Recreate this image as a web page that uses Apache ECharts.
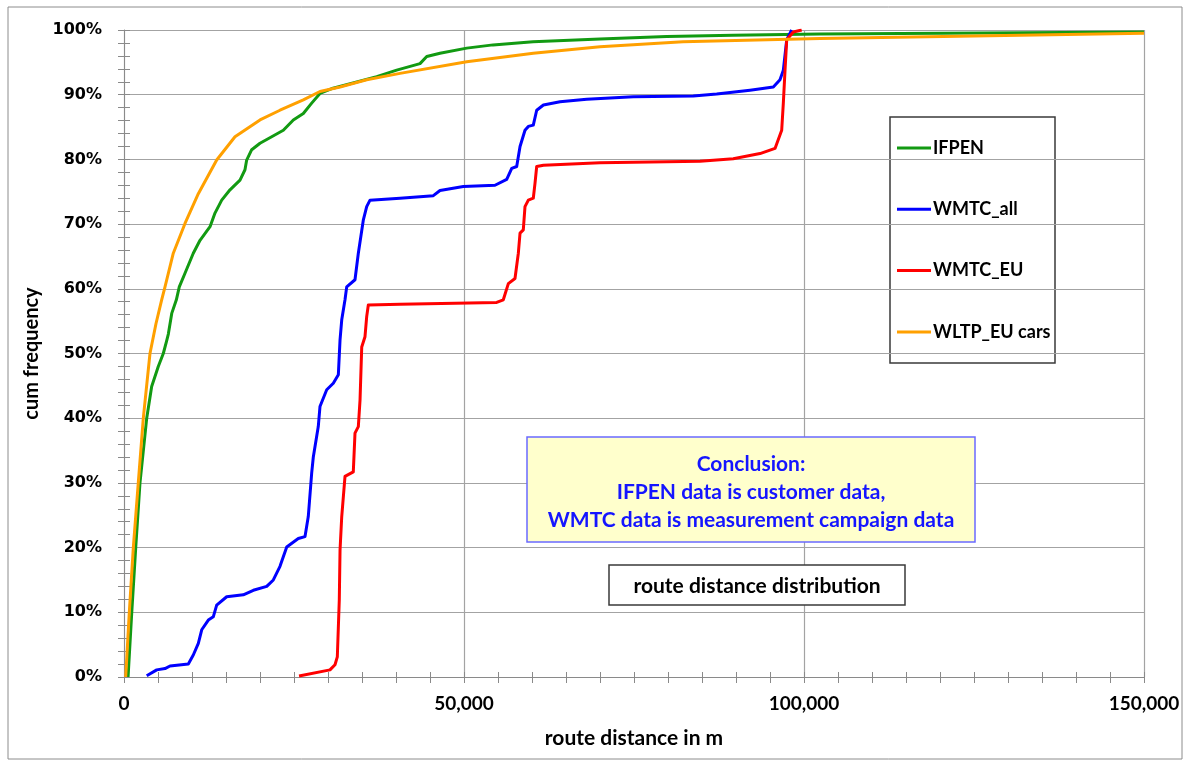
<!DOCTYPE html>
<html>
<head>
<meta charset="utf-8">
<script src="https://cdn.jsdelivr.net/npm/echarts@6/dist/echarts.min.js"></script>
<style>
html,body{margin:0;padding:0;background:#fff;}
#chart{width:1184px;height:767px;}
</style>
</head>
<body>
<div id="chart"></div>
<script>
// ---- data: [route distance in m, cumulative frequency in %] ----
const seriesNames = ['IFPEN', 'WMTC_all', 'WMTC_EU', 'WLTP_EU cars'];

const ifpen = [
  [600,0],[1130,9.8],[1720,19.9],[2350,30],[3340,40],[4070,44.9],[5040,48],[5780,50],
  [6280,52],[6520,53],[7020,56.2],[7700,58.3],[8130,60.3],[8970,62.4],[10190,65.5],
  [11180,67.5],[12650,69.6],[13380,71.7],[14370,73.7],[15590,75.3],[17060,76.8],
  [17790,78.4],[18040,79.9],[18780,81.5],[20000,82.5],[21720,83.5],[23430,84.5],
  [24900,86.1],[26370,87.1],[27600,88.7],[28820,90.2],[30740,91],[33680,91.8],
  [37160,92.8],[40100,93.8],[43530,94.8],[44520,95.9],[46470,96.4],[50400,97.2],
  [54270,97.7],[60150,98.2],[70000,98.6],[79810,99.0],[89560,99.2],[102350,99.4],
  [150000,99.7]
];

const wmtcAll = [
  [3340,0.2],[4810,1.1],[6030,1.3],[6770,1.7],[9460,2.0],[10190,3.4],[10930,5.2],
  [11430,7.3],[12400,8.8],[13130,9.3],[13630,11.1],[15100,12.4],[17540,12.7],
  [19020,13.4],[20990,14.0],[21960,15.0],[22940,17.1],[23930,20.1],[25630,21.4],
  [26620,21.7],[27100,24.8],[27600,31.5],[27840,34.0],[28570,38.7],[28820,41.8],
  [29810,44.4],[30780,45.4],[31520,46.7],[31770,52.1],[32020,55.2],[32500,58.3],
  [32750,60.3],[33970,61.4],[34460,65.5],[35190,70.6],[35690,72.7],[36180,73.7],
  [40590,74.0],[45490,74.4],[46470,75.2],[49900,75.8],[54560,76.0],[56280,76.9],
  [57020,78.6],[57750,78.9],[58240,82.0],[58970,84.5],[59460,85.1],[60190,85.3],
  [60690,87.6],[61680,88.4],[64120,88.9],[68040,89.3],[74900,89.7],[83720,89.8],
  [87160,90.1],[92060,90.7],[95490,91.2],[96470,92.3],[96960,93.8],[97460,98.5],
  [98190,100]
];

const wmtcEU = [
  [25740,0.15],[30290,1.1],[31030,1.9],[31370,3.1],[31660,11.9],[31770,19.6],
  [32020,24.8],[32500,31.0],[33720,31.7],[33970,37.7],[34460,38.7],[34710,42.8],
  [34960,51.0],[35440,52.6],[35690,55.7],[35930,57.5],[40590,57.6],[54810,57.9],
  [55780,58.3],[56520,60.8],[57500,61.6],[57990,65.5],[58240,68.6],[58720,69.1],
  [58970,72.7],[59460,73.7],[60190,74.0],[60440,76.3],[60690,78.9],[61680,79.1],
  [70000,79.5],[84710,79.7],[89600,80.1],[93530,80.9],[95740,81.7],[96720,84.5],
  [96960,88.7],[97210,93.8],[97460,98.5],[98430,99.7],[99660,100]
];

const wltpEU = [
  [250,0],[780,10],[1370,20],[2100,30],[2840,40],[3820,50],[4700,54.6],[5540,58.3],
  [6030,60.3],[7250,65.5],[8970,70.1],[10930,74.7],[13630,79.9],[16320,83.5],
  [20000,86.1],[22940,87.6],[26370,89.2],[28820,90.5],[31770,91.2],[35690,92.3],
  [40590,93.3],[50400,95.1],[60190,96.4],[70000,97.4],[82210,98.2],[102350,98.7],
  [150000,99.5]
];

const seriesColors = ['#129a12', '#0000ff', '#ff0000', '#ffa000'];
const xAxisRange = [0, 150000];
const xMajor = 50000;
const yAxisRange = [0, 100];
const yMajor = 10;

const conclusionLines = ['Conclusion:', 'IFPEN data is customer data,', 'WMTC data is measurement campaign data'];
const chartTitle = 'route distance distribution';

// ---- chart ----
const chart = echarts.init(document.getElementById('chart'), null, {renderer: 'canvas'});
const gridColor = '#a3a3a3';
const axisColor = '#8a8a8a';
const labelFont = 'Lato, "Open Sans", sans-serif';

function fmtThousands(v) {
  return String(Math.round(v)).replace(/\B(?=(\d{3})+(?!\d))/g, ',');
}

const dataSets = [ifpen, wmtcAll, wmtcEU, wltpEU];

const option = {
  animation: false,
  backgroundColor: '#ffffff',
  grid: {left: 124, right: 40, top: 30, bottom: 90, containLabel: false},
  legend: {
    show: true,
    data: seriesNames,
    orient: 'vertical',
    left: 897,
    top: 138,
    itemWidth: 34,
    itemHeight: 14,
    itemGap: 41.3,
    padding: 0,
    icon: 'path://M0,6 L34,6 L34,9 L0,9 Z',
    textStyle: {fontFamily: labelFont, fontWeight: 'bold', fontSize: 18, color: '#000', lineHeight: 20, padding: [0,0,0,-3]}
  },
  xAxis: [{
    type: 'value',
    min: xAxisRange[0], max: xAxisRange[1], interval: xMajor,
    position: 'bottom',
    name: 'route distance in m',
    nameLocation: 'middle',
    nameGap: 51,
    nameTextStyle: {fontFamily: labelFont, fontWeight: 'bold', fontSize: 21, color: '#000'},
    axisLine: {show: true, onZero: false, lineStyle: {color: axisColor, width: 1}},
    axisTick: {show: true, length: 6, lineStyle: {color: axisColor}},
    minorTick: {show: true, splitNumber: 10, length: 6, lineStyle: {color: axisColor}},
    axisLabel: {margin: 17, fontFamily: labelFont, fontWeight: 'bold', fontSize: 19, color: '#000',
      formatter: fmtThousands},
    splitLine: {show: true, lineStyle: {color: gridColor, width: 1.2}}
  }, {
    type: 'value',
    min: xAxisRange[0], max: xAxisRange[1], interval: xMajor,
    position: 'bottom',
    axisLine: {show: false},
    axisTick: {show: true, inside: true, length: 5, lineStyle: {color: axisColor}},
    minorTick: {show: true, splitNumber: 10, length: 5, lineStyle: {color: axisColor}},
    axisLabel: {show: false},
    splitLine: {show: false}
  }],
  yAxis: [{
    type: 'value',
    min: yAxisRange[0], max: yAxisRange[1], interval: yMajor,
    position: 'left',
    name: 'cum frequency',
    nameLocation: 'middle',
    nameGap: 76,
    nameRotate: 90,
    nameTextStyle: {fontFamily: labelFont, fontWeight: 'bold', fontSize: 20, color: '#000'},
    axisLine: {show: true, onZero: false, lineStyle: {color: axisColor, width: 1}},
    axisTick: {show: true, length: 6, lineStyle: {color: axisColor}},
    minorTick: {show: true, splitNumber: 5, length: 6, lineStyle: {color: axisColor}},
    axisLabel: {margin: 22, fontFamily: '"DejaVu Sans", Verdana, sans-serif', fontWeight: 'bold', fontSize: 16, color: '#000',
      formatter: '{value}%'},
    splitLine: {show: true, lineStyle: {color: gridColor, width: 1.2}}
  }, {
    type: 'value',
    min: yAxisRange[0], max: yAxisRange[1], interval: yMajor,
    position: 'left',
    axisLine: {show: false},
    axisTick: {show: true, inside: true, length: 6, lineStyle: {color: axisColor}},
    minorTick: {show: true, splitNumber: 5, length: 6, lineStyle: {color: axisColor}},
    axisLabel: {show: false},
    splitLine: {show: false}
  }],
  series: seriesNames.map((name, i) => ({
    name: name,
    type: 'line',
    xAxisIndex: 0,
    yAxisIndex: 0,
    data: dataSets[i],
    showSymbol: false,
    symbol: 'none',
    smooth: false,
    color: seriesColors[i],
    lineStyle: {color: seriesColors[i], width: 3, join: 'round'},
    z: 2 + i
  })),
  graphic: [
    {type: 'rect', silent: true, z: 100,
      shape: {x: 8, y: 7, width: 1174, height: 752},
      style: {fill: 'none', stroke: '#8c8c8c', lineWidth: 1}},
    {type: 'rect', silent: true, z: 0, zlevel: 0,
      shape: {x: 890, y: 117, width: 165, height: 246},
      style: {fill: '#ffffff', stroke: '#3a3a3a', lineWidth: 1.5}},
    {type: 'rect', silent: true, z: 100,
      shape: {x: 527, y: 437, width: 448, height: 105},
      style: {fill: '#ffffcc', stroke: '#6a6aff', lineWidth: 1.5}},
    {type: 'text', silent: true, z: 101,
      style: {x: 751, y: 464, text: conclusionLines[0], align: 'center', verticalAlign: 'middle',
        fill: '#1515ff', font: 'bold 21px Lato, sans-serif'}},
    {type: 'text', silent: true, z: 101,
      style: {x: 751, y: 492, text: conclusionLines[1], align: 'center', verticalAlign: 'middle',
        fill: '#1515ff', font: 'bold 21px Lato, sans-serif'}},
    {type: 'text', silent: true, z: 101,
      style: {x: 751, y: 520, text: conclusionLines[2], align: 'center', verticalAlign: 'middle',
        fill: '#1515ff', font: 'bold 21px Lato, sans-serif'}},
    {type: 'rect', silent: true, z: 100,
      shape: {x: 609, y: 565, width: 296, height: 40},
      style: {fill: '#ffffff', stroke: '#3a3a3a', lineWidth: 1.5}},
    {type: 'text', silent: true, z: 101,
      style: {x: 757, y: 586, text: chartTitle, align: 'center', verticalAlign: 'middle',
        fill: '#000000', font: 'bold 21px Lato, sans-serif'}}
  ]
};
chart.setOption(option);
</script>
</body>
</html>
